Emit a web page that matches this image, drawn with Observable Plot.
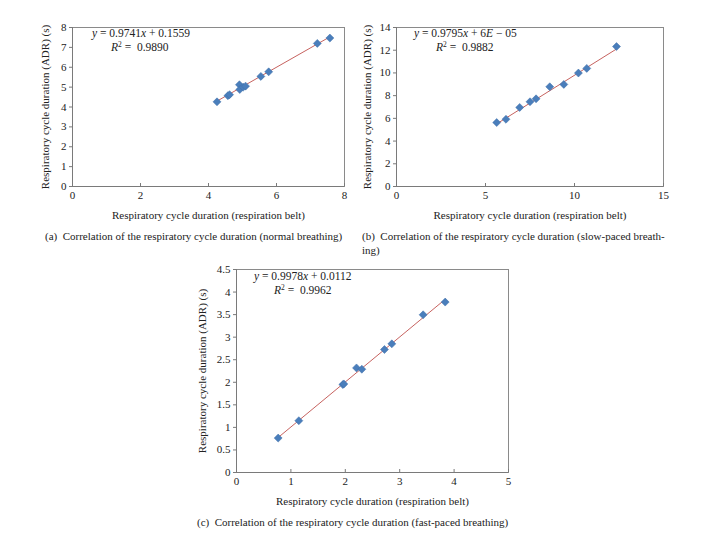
<!DOCTYPE html>
<html>
<head>
<meta charset="utf-8">
<script src="https://cdn.jsdelivr.net/npm/d3@7"></script>
<script src="https://cdn.jsdelivr.net/npm/@observablehq/plot@0.6"></script>
<style>
  html, body { margin: 0; padding: 0; background: #fff; }
  #root { position: relative; width: 724px; height: 535px; background: #fff; font-family: "Liberation Serif", "DejaVu Serif", serif; color: #222; }
  .panel { position: absolute; }
  .ann { position: absolute; font-size: 11.5px; line-height: 14px; white-space: nowrap; color: #222; }
  .cap { position: absolute; font-size: 11px; white-space: nowrap; color: #222; }
  sup { font-size: 7.5px; vertical-align: 4px; line-height: 0; }
</style>
</head>
<body>
<div id="root"></div>
<script>
// ---- Data ----
const xNormal = [4.25, 4.57, 4.62, 4.91, 4.92, 5.02, 5.09, 5.54, 5.77, 7.20, 7.57];
const yNormal = [4.26, 4.57, 4.62, 5.12, 4.88, 5.00, 5.05, 5.54, 5.77, 7.20, 7.47];

const xSlow = [5.63, 6.15, 6.92, 7.50, 7.84, 8.61, 9.40, 10.22, 10.69, 12.36];
const ySlow = [5.63, 5.92, 6.96, 7.46, 7.72, 8.78, 8.99, 9.99, 10.40, 12.32];

const xFast = [0.766, 1.146, 1.955, 1.973, 2.206, 2.304, 2.72, 2.855, 3.431, 3.836];
const yFast = [0.763, 1.148, 1.948, 1.963, 2.318, 2.289, 2.726, 2.852, 3.496, 3.778];

// regression coefficients (from the chart's equations)
const slopes = [0.9741, 0.9795, 0.9978];
const intercepts = [0.1559, 0.00006, 0.0112];
const eqTexts = ["0.9741", "0.1559", "0.9795", "6<i>E</i> − 05", "0.9978", "0.0112"];
const r2Texts = ["0.9890", "0.9882", "0.9962"];

// tick labels
const xTicksA = [0, 2, 4, 6, 8];
const yTicksA = [0, 1, 2, 3, 4, 5, 6, 7, 8];
const xTicksB = [0, 5, 10, 15];
const yTicksB = [0, 2, 4, 6, 8, 10, 12, 14];
const xTicksC = [0, 1, 2, 3, 4, 5];
const yTicksC = [0, 0.5, 1, 1.5, 2, 2.5, 3, 3.5, 4, 4.5];

const xTitle = "Respiratory cycle duration (respiration belt)";
const yTitle = "Respiratory cycle duration (ADR) (s)";
const captions = [
  "(a)&nbsp; Correlation of the respiratory cycle duration (normal breathing)",
  "(b)&nbsp; Correlation of the respiratory cycle duration (slow-paced breath-<br>ing)",
  "(c)&nbsp; Correlation of the respiratory cycle duration (fast-paced breathing)"
];

const root = document.getElementById("root");

function panel(xs, ys, k, opts) {
  const data = xs.map((x, i) => ({x, y: ys[i]}));
  const xmin = d3.min(xs), xmax = d3.max(xs);
  const line = [xmin, xmax].map(x => ({x, y: slopes[k] * x + intercepts[k]}));
  const chart = Plot.plot({
    width: opts.width, height: opts.height,
    marginLeft: opts.ml, marginRight: opts.mr, marginTop: opts.mt, marginBottom: opts.mb,
    style: {fontFamily: "Liberation Serif, serif", fontSize: "11px", color: "#222", background: "transparent"},
    x: {domain: opts.xd},
    y: {domain: opts.yd},
    marks: [
      Plot.frame({stroke: "#8a8a8a", strokeWidth: 1}),
      Plot.ruleX([opts.xd[0]], {stroke: "#7a7a7a"}),
      Plot.ruleY([opts.yd[0]], {stroke: "#7a7a7a"}),
      Plot.axisX({ticks: opts.xt, tickFormat: d => String(d), tickSize: -3, tickPadding: 8, stroke: "#7a7a7a",
        label: xTitle, labelAnchor: "center", labelArrow: "none", labelOffset: opts.xlo}),
      Plot.axisY({ticks: opts.yt, tickFormat: d => String(d), tickSize: 3, tickPadding: 3, stroke: "#7a7a7a",
        label: yTitle, labelAnchor: "center", labelArrow: "none", labelOffset: opts.ylo}),
      Plot.line(line, {x: "x", y: "y", stroke: "#c0504d", strokeWidth: 0.9}),
      Plot.dot(data, {x: "x", y: "y", symbol: "diamond2", r: 3.6, fill: "#4a7ebb", stroke: "#3f6fa8", strokeWidth: 0.5})
    ]
  });
  const wrap = document.createElement("div");
  wrap.className = "panel";
  wrap.style.left = opts.left + "px";
  wrap.style.top = opts.top + "px";
  wrap.appendChild(chart);
  root.appendChild(wrap);
}

panel(xNormal, yNormal, 0, {left: 0, top: 0, width: 360, height: 222, ml: 72, mr: 16, mt: 27, mb: 36,
  xd: [0, 8], yd: [0, 8], xt: xTicksA, yt: yTicksA, xlo: 32, ylo: 31});
panel(xSlow, ySlow, 1, {left: 360, top: 0, width: 364, height: 222, ml: 36, mr: 61, mt: 27, mb: 36,
  xd: [0, 15], yd: [0, 14], xt: xTicksB, yt: yTicksB, xlo: 32, ylo: 33});
panel(xFast, yFast, 2, {left: 180, top: 255, width: 350, height: 253, ml: 56, mr: 22, mt: 14, mb: 36,
  xd: [0, 5], yd: [0, 4.5], xt: xTicksC, yt: yTicksC, xlo: 32, ylo: 38});

function ann(left, top, a, b, r2, indent) {
  const d = document.createElement("div");
  d.className = "ann";
  d.style.left = left + "px";
  d.style.top = top + "px";
  d.innerHTML = `<i>y</i> = ${a}<i>x</i> + ${b}<br><span style="padding-left:${indent}px"><i>R</i><sup>2</sup> =&nbsp; ${r2}</span>`;
  root.appendChild(d);
}
ann(92, 26, eqTexts[0], eqTexts[1], r2Texts[0], 19);
ann(414, 26, eqTexts[2], eqTexts[3], r2Texts[1], 22);
ann(254, 269, eqTexts[4], eqTexts[5], r2Texts[2], 20);

function cap(left, top, html) {
  const d = document.createElement("div");
  d.className = "cap";
  d.style.left = left + "px";
  d.style.top = top + "px";
  d.style.lineHeight = "14px";
  d.innerHTML = html;
  root.appendChild(d);
}
cap(45, 229, captions[0]);
cap(362, 229, captions[1]);
cap(197, 515, captions[2]);
</script>
</body>
</html>
